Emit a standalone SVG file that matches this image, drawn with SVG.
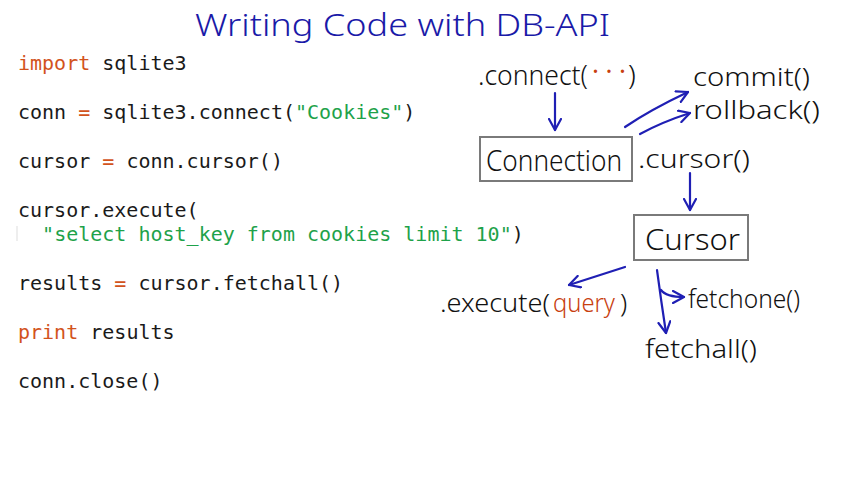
<svg xmlns="http://www.w3.org/2000/svg" width="852" height="480" viewBox="0 0 852 480">
<style>
.code{font-family:"DejaVu Sans Mono","Liberation Mono",monospace;font-size:20px;fill:#1a1a1a}
.kw{fill:#d2531c}
.str{fill:#1ea24a}
.hand{font-family:"Noto Sans","DejaVu Sans",sans-serif;font-weight:300;fill:#111}
.red{fill:#c8400f}
.arrow{fill:none;stroke:#1f1fb4;stroke-width:2.2;stroke-linecap:round;stroke-linejoin:round}
.box{fill:#fff;stroke:#7a7a7a;stroke-width:2}
</style>
<defs>
<marker id="ah" viewBox="0 0 14 14" refX="12" refY="7" markerWidth="14" markerHeight="14" markerUnits="userSpaceOnUse" orient="auto">
<path d="M1,1 L12,7 L1,13" fill="none" stroke="#1f1fb4" stroke-width="2.2" stroke-linecap="round" stroke-linejoin="round"/>
</marker>
</defs>
<rect width="852" height="480" fill="#fff"/>
<text x="195" y="36" class="hand" style="fill:#1a1aa8;font-size:32px" textLength="415" lengthAdjust="spacingAndGlyphs">Writing Code with DB-API</text>
<g id="code">
<text x="18" y="70" class="code"><tspan class="kw">import</tspan> sqlite3</text>
<text x="18" y="119" class="code">conn <tspan class="kw">=</tspan> sqlite3.connect(<tspan class="str">"Cookies"</tspan>)</text>
<text x="18" y="168" class="code">cursor <tspan class="kw">=</tspan> conn.cursor()</text>
<text x="18" y="217" class="code">cursor.execute(</text>
<line x1="17" y1="226" x2="17" y2="241" stroke="#dddddd" stroke-width="1"/>
<text x="18" y="241" class="code" xml:space="preserve">  <tspan class="str">"select host_key from cookies limit 10"</tspan>)</text>
<text x="18" y="290" class="code">results <tspan class="kw">=</tspan> cursor.fetchall()</text>
<text x="18" y="339" class="code"><tspan class="kw">print</tspan> results</text>
<text x="18" y="388" class="code">conn.close()</text>
</g>
<g id="connect-label">
<text x="478" y="85" class="hand" style="font-size:28px" textLength="110" lengthAdjust="spacingAndGlyphs">.connect(</text>
<text x="592" y="80" class="hand red" style="font-size:26px;font-weight:400" textLength="34" lengthAdjust="spacing">···</text>
<text x="628" y="85" class="hand" style="font-size:28px">)</text>
</g>
<g id="connection">
<rect x="480" y="137" width="152" height="44" class="box"/>
<text x="486" y="171" class="hand" style="font-size:29px" textLength="136" lengthAdjust="spacingAndGlyphs">Connection</text>
</g>
<g id="commit"><text x="693" y="86" class="hand" style="font-size:25px" textLength="117" lengthAdjust="spacingAndGlyphs">commit()</text></g>
<g id="rollback"><text x="693" y="119" class="hand" style="font-size:25px" textLength="127" lengthAdjust="spacingAndGlyphs">rollback()</text></g>
<g id="cursor-label"><text x="638" y="168" class="hand" style="font-size:25px" textLength="112" lengthAdjust="spacingAndGlyphs">.cursor()</text></g>
<g id="cursor">
<rect x="634" y="215" width="114" height="45" class="box"/>
<text x="645" y="250" class="hand" style="font-size:30px" textLength="95" lengthAdjust="spacingAndGlyphs">Cursor</text>
</g>
<g id="execute">
<text x="440" y="312" class="hand" style="font-size:26px" textLength="110" lengthAdjust="spacingAndGlyphs">.execute(</text>
<text x="553" y="312" class="hand red" style="font-size:26px" textLength="62" lengthAdjust="spacingAndGlyphs">query</text>
<text x="620" y="312" class="hand" style="font-size:26px">)</text>
</g>
<g id="fetchone"><text x="688" y="308" class="hand" style="font-size:25px" textLength="112" lengthAdjust="spacingAndGlyphs">fetchone()</text></g>
<g id="fetchall"><text x="645" y="358" class="hand" style="font-size:25px" textLength="112" lengthAdjust="spacingAndGlyphs">fetchall()</text></g>
<g id="connectors">
<path class="arrow" d="M555,93 L555,130" marker-end="url(#ah)"/>
<path class="arrow" d="M625,127 Q650,110 688,92" marker-end="url(#ah)"/>
<path class="arrow" d="M640,134 Q662,122 690,113" marker-end="url(#ah)"/>
<path class="arrow" d="M690,173 L690,210" marker-end="url(#ah)"/>
<path class="arrow" d="M625,267 L569,285" marker-end="url(#ah)"/>
<path class="arrow" d="M657,270 Q661,300 666,333" marker-end="url(#ah)"/>
<path class="arrow" d="M661,290 Q666,297 684,297" marker-end="url(#ah)"/>
</g>
</svg>
